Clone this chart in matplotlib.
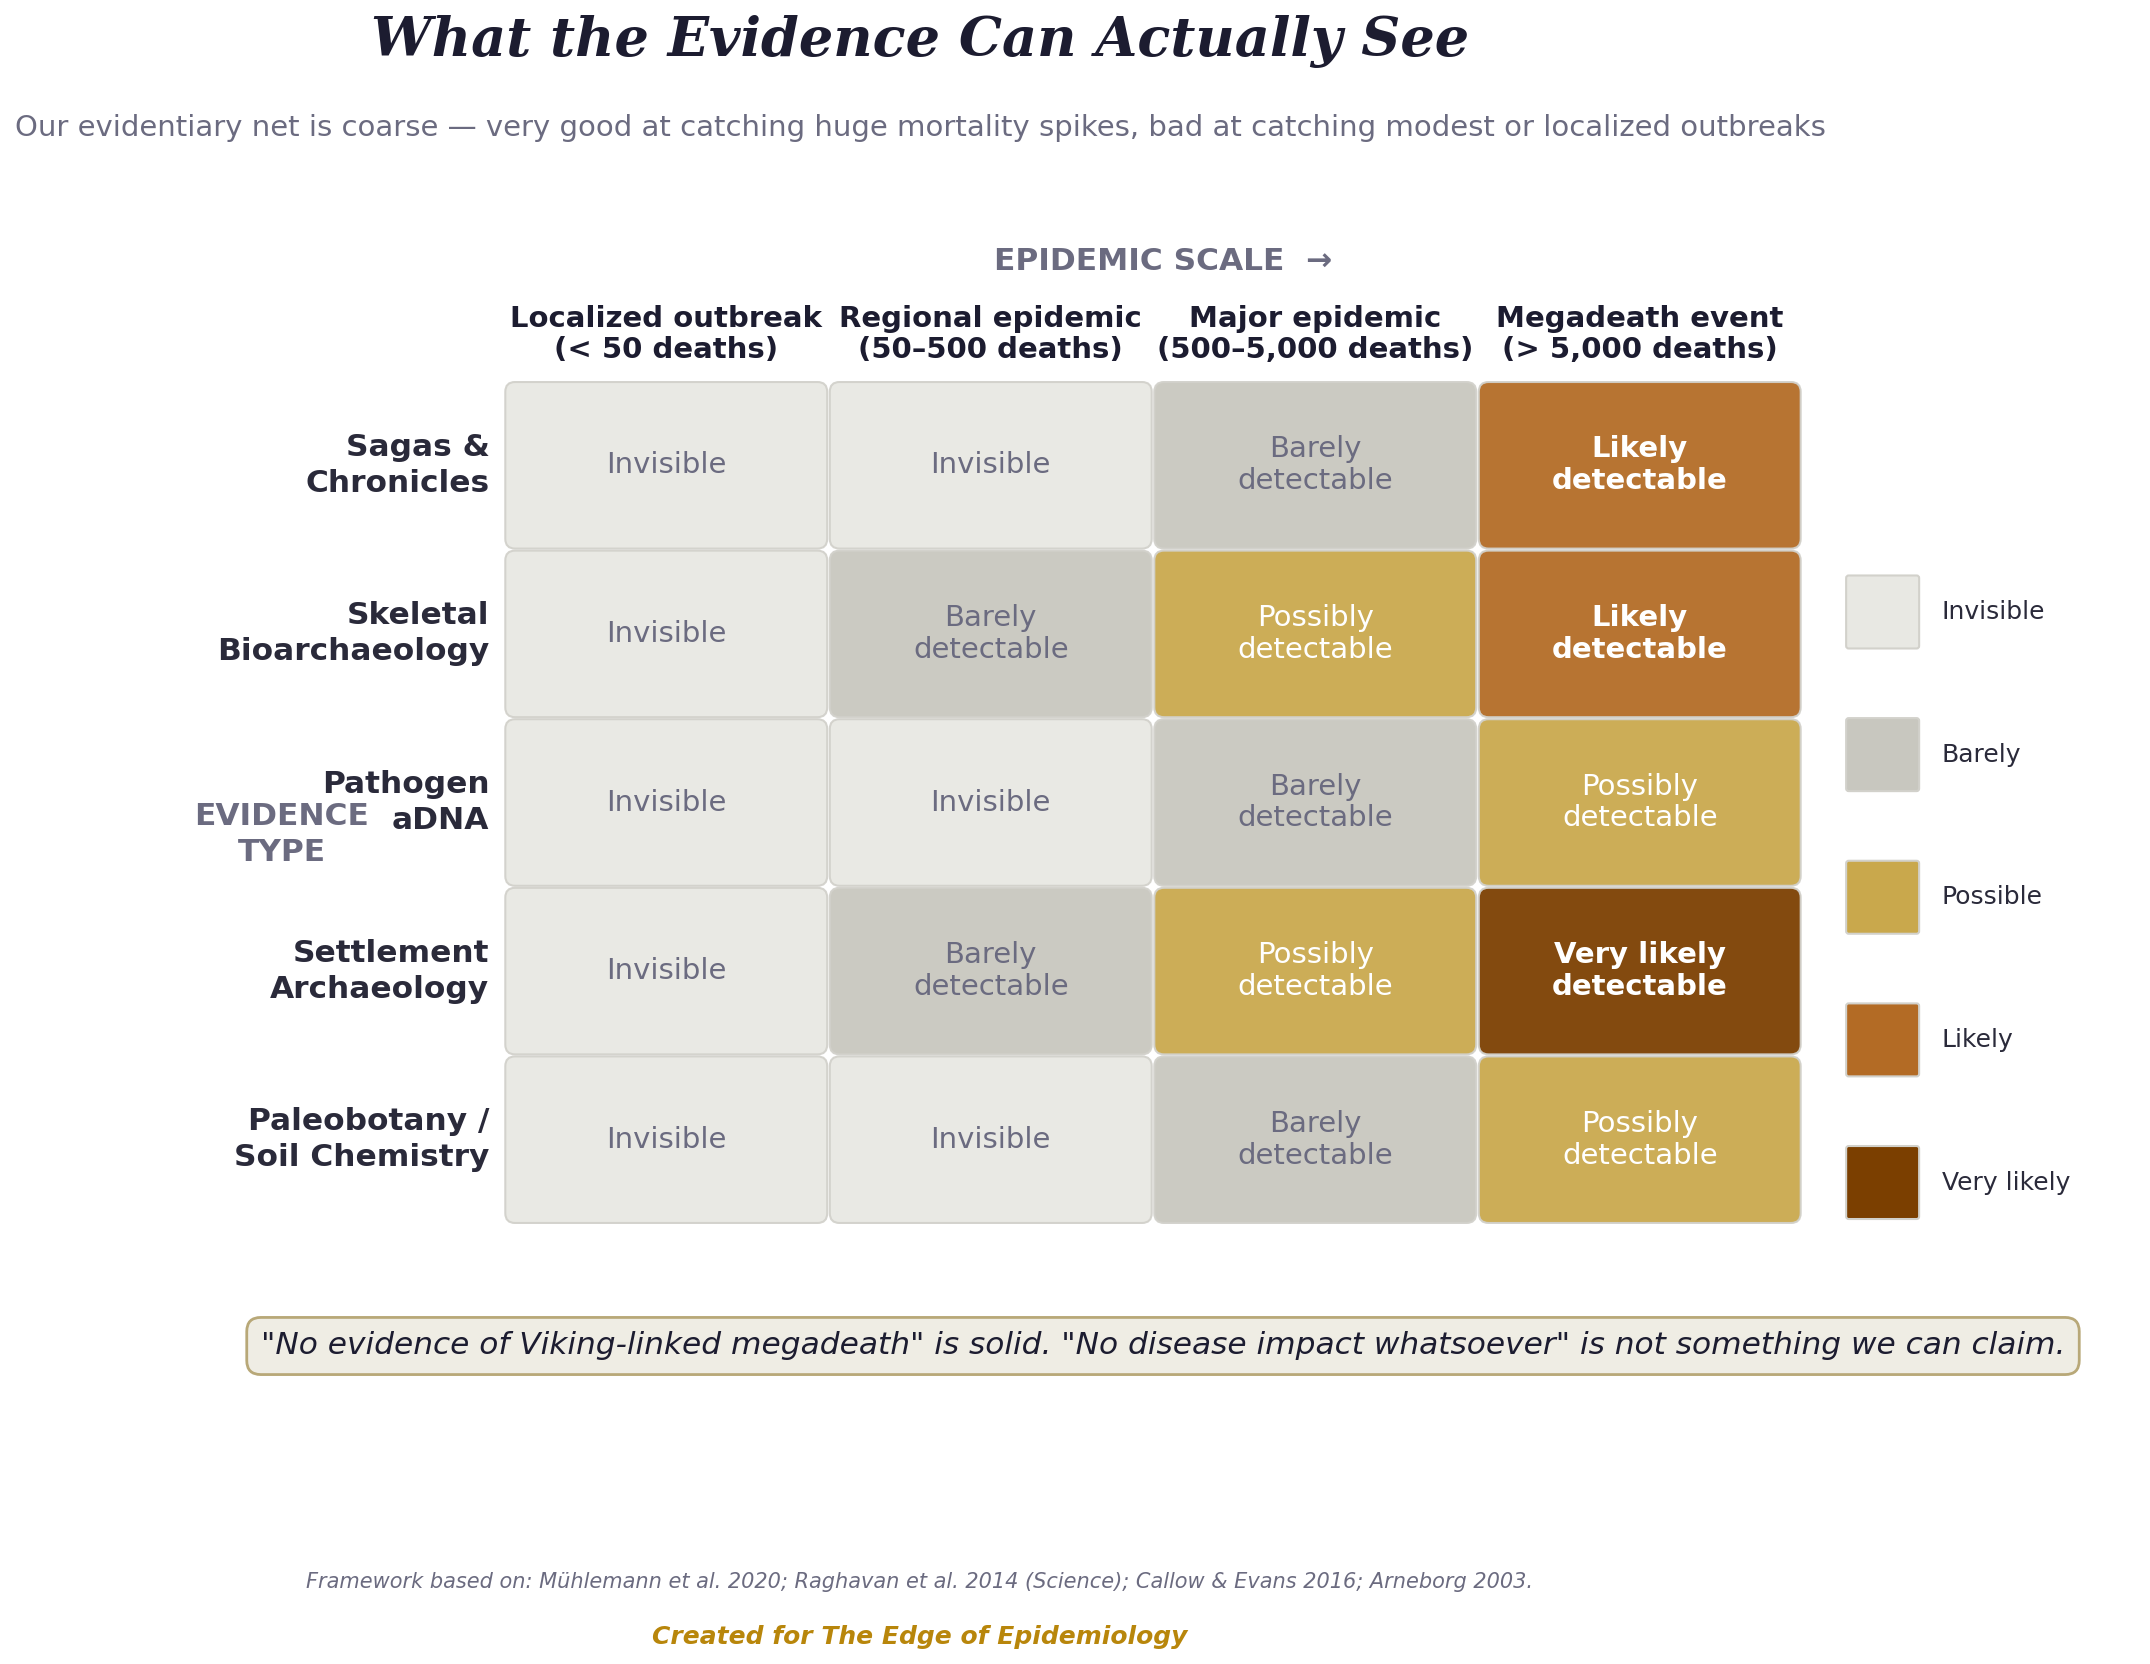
import matplotlib
matplotlib.use("Agg")
import matplotlib.pyplot as plt
from matplotlib.patches import FancyBboxPatch

# --- data ---
evidence_types = ["Sagas &\nChronicles", "Skeletal\nBioarchaeology", "Pathogen\naDNA",
                  "Settlement\nArchaeology", "Paleobotany /\nSoil Chemistry"]
epidemic_scales = ["Localized outbreak\n(< 50 deaths)", "Regional epidemic\n(50–500 deaths)",
                   "Major epidemic\n(500–5,000 deaths)", "Megadeath event\n(> 5,000 deaths)"]
# 0 = invisible, 1 = barely, 2 = possibly, 3 = likely, 4 = very likely
detectability = [
    [0, 0, 1, 3],
    [0, 1, 2, 3],
    [0, 0, 1, 2],
    [0, 1, 2, 4],
    [0, 0, 1, 2],
]
level_names = ["Invisible", "Barely", "Possible", "Likely", "Very likely"]
cell_texts = ["Invisible", "Barely\ndetectable", "Possibly\ndetectable",
              "Likely\ndetectable", "Very likely\ndetectable"]
level_colors = ["#e8e8e3", "#c8c7bf", "#c9a84c", "#b36b25", "#7b3f00"]

DARK = "#1c1c30"
LABEL = "#2a2a3a"
GRAY = "#6b6b80"

W, H = 2150, 1664
fig = plt.figure(figsize=(W / 100, H / 100), dpi=100)
fig.patch.set_facecolor("white")

# grid axes placed in pixel terms
gx0, gx1, gy0, gy1 = 504, 1802, 381, 1224
ax = fig.add_axes([gx0 / W, 1 - gy1 / H, (gx1 - gx0) / W, (gy1 - gy0) / H])
ax.set_xlim(0, len(epidemic_scales))
ax.set_ylim(len(evidence_types), 0)
ax.axis("off")

col_px = (gx1 - gx0) / len(epidemic_scales)
row_px = (gy1 - gy0) / len(evidence_types)
aspect = col_px / row_px

for i, row in enumerate(detectability):
    for j, lvl in enumerate(row):
        p = FancyBboxPatch((j + 0.004, i + 0.006), 0.992, 0.988,
                           boxstyle="round,pad=0,rounding_size=0.03",
                           mutation_aspect=aspect,
                           facecolor=level_colors[lvl], alpha=0.94,
                           edgecolor="#d2d1cb", linewidth=1.5)
        ax.add_patch(p)
        if lvl <= 1:
            tc, fw = GRAY, "normal"
        elif lvl == 2:
            tc, fw = "white", "normal"
        else:
            tc, fw = "white", "bold"
        ax.text(j + 0.5, i + 0.5, cell_texts[lvl], ha="center", va="center",
                fontsize=21, color=tc, fontweight=fw, linespacing=1.17)

for j, lab in enumerate(epidemic_scales):
    ax.text(j + 0.5, -0.1, lab, ha="center", va="bottom", fontsize=21,
            fontweight="bold", color=DARK, linespacing=1.15, clip_on=False)

for i, lab in enumerate(evidence_types):
    ax.text(-0.045, i + 0.5, lab, ha="right", va="center", fontsize=22.5,
            fontweight="bold", color=LABEL, linespacing=1.3, clip_on=False)

ax.text(-0.685, 2.69, "EVIDENCE\nTYPE", ha="center", va="center", fontsize=22.5,
        fontweight="bold", color=GRAY, linespacing=1.27, clip_on=False)

# legend
for k, name in enumerate(level_names):
    yc = 1.37 + k * 0.846
    lp = FancyBboxPatch((4.136, yc - 0.2165), 0.225, 0.433,
                        boxstyle="round,pad=0,rounding_size=0.008",
                        mutation_aspect=aspect, facecolor=level_colors[k],
                        edgecolor="#d2d1cb", linewidth=1.5, clip_on=False)
    ax.add_patch(lp)
    ax.text(4.431, yc, name, ha="left", va="center", fontsize=18,
            color=LABEL, clip_on=False)

# titles
fig.text(920 / W, 1 - 41 / H, "What the Evidence Can Actually See", ha="center", va="center",
         fontsize=39, family="DejaVu Serif", fontweight="bold", fontstyle="italic", color=DARK)
fig.text(920 / W, 1 - 128 / H,
         "Our evidentiary net is coarse — very good at catching huge mortality spikes, "
         "bad at catching modest or localized outbreaks",
         ha="center", va="center", fontsize=21, color=GRAY)
fig.text(1163 / W, 1 - 262 / H, "EPIDEMIC SCALE  →", ha="center", va="center",
         fontsize=22.5, fontweight="bold", color=GRAY)

fig.text(1163 / W, 1 - 1346 / H,
         '"No evidence of Viking-linked megadeath" is solid. '
         '"No disease impact whatsoever" is not something we can claim.',
         ha="center", va="center", fontsize=22.5, fontstyle="italic", color=DARK,
         bbox=dict(boxstyle="round,pad=0.45", facecolor="#efede4", edgecolor="#b8a878",
                   linewidth=2))

fig.text(920 / W, 1 - 1582 / H,
         "Framework based on: Mühlemann et al. 2020; Raghavan et al. 2014 (Science); "
         "Callow & Evans 2016; Arneborg 2003.",
         ha="center", va="center", fontsize=15, fontstyle="italic", color=GRAY)
fig.text(920 / W, 1 - 1637 / H, "Created for The Edge of Epidemiology", ha="center",
         va="center", fontsize=18, fontweight="bold", fontstyle="italic", color="#b8860b")

fig.savefig("out.png", dpi=100, facecolor="white")
